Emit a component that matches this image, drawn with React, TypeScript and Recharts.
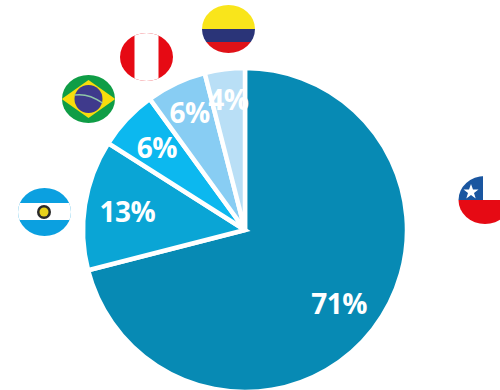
import type { FC, ReactNode } from "react";
import { Cell, Pie, PieChart } from "recharts";

// Share per country, clockwise from twelve o'clock
const countries = ["Chile", "Argentina", "Brasil", "Perú", "Colombia"];
const shares = [71, 13, 6, 6, 4];
const sliceColors = ["#078AB4", "#0AA5D5", "#0CB8EF", "#88CDF3", "#B9DFF6"];

// The thin slices push their labels a bit further out so they fit
const labelRadii = [119, 119, 121, 130, 132];

const data = countries.map((name, i) => ({ name, value: shares[i] }));

const RADIAN = Math.PI / 180;

const renderLabel = (props: any) => {
  const { cx, cy, midAngle, index, value } = props;
  const r = labelRadii[index];
  const x = cx + r * Math.cos(-midAngle * RADIAN);
  const y = cy + r * Math.sin(-midAngle * RADIAN);
  return (
    <text
      x={x}
      y={y}
      fill="#FFFFFF"
      textAnchor="middle"
      dominantBaseline="central"
      fontFamily="'Open Sans', sans-serif"
      fontWeight={700}
      fontSize={28}
      letterSpacing={-0.5}
    >
      {value}%
    </text>
  );
};

// Badges are slightly squashed circles
const FLAG_RX = 26.5;
const FLAG_RY = 24;

// Everything inside a badge is clipped to its ellipse
const Flag: FC<{ id: string; x: number; y: number; children: ReactNode }> = ({
  id,
  x,
  y,
  children,
}) => (
  <g transform={`translate(${x} ${y})`}>
    <clipPath id={id}>
      <ellipse rx={FLAG_RX} ry={FLAG_RY} />
    </clipPath>
    <g clipPath={`url(#${id})`}>{children}</g>
  </g>
);

const Flags: FC = () => (
  <svg
    width={500}
    height={390}
    style={{ position: "absolute", left: 0, top: 0, pointerEvents: "none" }}
  >
    {/* Colombia */}
    <Flag id="co" x={228.5} y={29}>
      <rect x={-27} y={-25} width={54} height={25} fill="#F9E51B" />
      <rect x={-27} y={0} width={54} height={13} fill="#2A3478" />
      <rect x={-27} y={13} width={54} height={12} fill="#E01218" />
    </Flag>
    {/* Perú */}
    <Flag id="pe" x={146.5} y={57}>
      <rect x={-27} y={-25} width={54} height={50} fill="#E60A14" />
      <rect x={-12} y={-25} width={24} height={50} fill="#FFFFFF" />
    </Flag>
    {/* Brasil */}
    <Flag id="br" x={88.5} y={99}>
      <rect x={-27} y={-25} width={54} height={50} fill="#0F9D46" />
      <polygon points="-27,0 0,-19 27,0 0,19" fill="#F8DC0C" />
      <circle r={14} fill="#3F3A8C" />
      <path d="M-14,-4 Q0,-6 14,4" stroke="#8FC7A8" strokeWidth={1.5} fill="none" />
    </Flag>
    {/* Argentina */}
    <Flag id="ar" x={44.5} y={212}>
      <rect x={-27} y={-25} width={54} height={50} fill="#0BA0E0" />
      <rect x={-27} y={-9} width={54} height={17} fill="#FFFFFF" />
      <circle cx={-0.5} r={7} fill="#2A2A2A" />
      <circle cx={-0.5} r={4.5} fill="#E8D21C" />
    </Flag>
    {/* Chile */}
    <Flag id="cl" x={485} y={200}>
      <rect x={-27} y={-25} width={54} height={25} fill="#FFFFFF" />
      <rect x={-27} y={-25} width={25} height={25} fill="#1A56A0" />
      <rect x={-27} y={0} width={54} height={25} fill="#E60A14" />
      <polygon
        points="-14,-16 -12,-10.5 -6.5,-10.5 -11,-7 -9.3,-1.5 -14,-5 -18.7,-1.5 -17,-7 -21.5,-10.5 -16,-10.5"
        fill="#FFFFFF"
      />
    </Flag>
  </svg>
);

const App: FC = () => (
  <div
    style={{
      position: "absolute",
      left: 0,
      top: 0,
      width: 500,
      height: 390,
      overflow: "hidden",
      background: "#FFFFFF",
    }}
  >
    <PieChart width={500} height={390} margin={{ top: 0, right: 0, bottom: 0, left: 0 }}>
      <Pie
        data={data}
        dataKey="value"
        cx={245}
        cy={230}
        innerRadius={0}
        outerRadius={162}
        startAngle={90}
        endAngle={-270}
        stroke="#FFFFFF"
        strokeWidth={4.5}
        label={renderLabel}
        labelLine={false}
        isAnimationActive={false}
      >
        {data.map((d, i) => (
          <Cell key={d.name} fill={sliceColors[i]} />
        ))}
      </Pie>
    </PieChart>
    <Flags />
  </div>
);

export default App;
